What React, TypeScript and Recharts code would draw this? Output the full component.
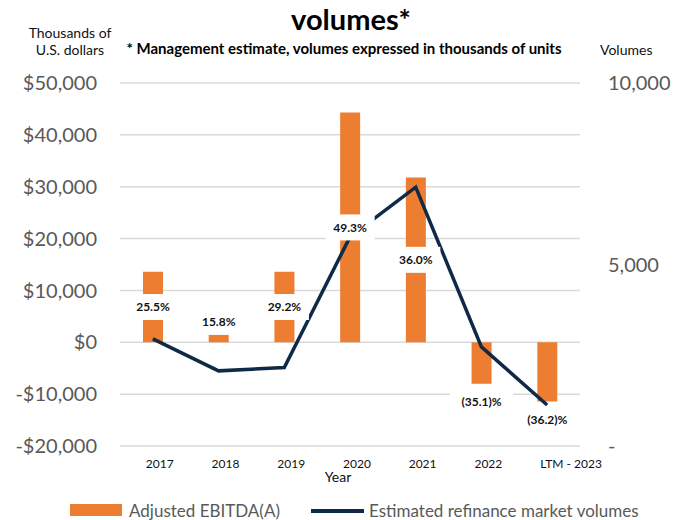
import React from 'react';
import {
  ComposedChart,
  Bar,
  Line,
  XAxis,
  YAxis,
  CartesianGrid,
  Legend,
  LabelList,
} from 'recharts';

const YEARS = ['2017', '2018', '2019', '2020', '2021', '2022', 'LTM - 2023'];
// Adjusted EBITDA, thousands of USD
const EBITDA = [13600, 1450, 13600, 44300, 31800, -8000, -11400];
// Estimated refinance market volumes, thousands of units
const VOLUMES = [2950, 2070, 2160, 5760, 7130, 2730, 1130];
const MARGINS = ['25.5%', '15.8%', '29.2%', '49.3%', '36.0%', '(35.1)%', '(36.2)%'];
const LEFT_TICKS = [-20000, -10000, 0, 10000, 20000, 30000, 40000, 50000];
const RIGHT_TICKS = [0, 5000, 10000];

const data = YEARS.map((year, i) => ({
  year,
  ebitda: EBITDA[i],
  volume: VOLUMES[i],
}));

const ORANGE = '#ED7D31';
const NAVY = '#0F2A47';
const GREY = '#595959';
const FONT = 'Lato, "Open Sans", sans-serif';

const fmtDollars = (v: number) =>
  (v < 0 ? '-$' : '$') + Math.abs(v).toLocaleString('en-US');
const fmtVolume = (v: number) => (v === 0 ? '-' : v.toLocaleString('en-US'));

// year labels sit a little right of the bar centre, left aligned
const YearTick = (props: any) => {
  const { x, y, payload } = props;
  return (
    <text x={x - 7} y={y} dy="0.71em" textAnchor="start" fontSize={12} fill="#111" fontFamily={FONT}>
      {payload.value}
    </text>
  );
};

// margin % label in a white box: centred in the bar, above short bars, below negative bars
const MarginLabel = (props: any) => {
  const vb = props.viewBox || props;
  const { x, y, width, height } = vb;
  const idx = props.index;
  const top = Math.min(y, y + height);
  const bottom = Math.max(y, y + height);
  const cx = x + width / 2;
  const boxH = 26;
  let cy = (top + bottom) / 2;
  if (EBITDA[idx] < 0) cy = bottom + 18;
  else if (bottom - top < boxH) cy = top - boxH / 2;
  const txt = MARGINS[idx];
  const w = txt.length * 7 + 14;
  return (
    <g>
      <rect x={cx - w / 2} y={cy - boxH / 2} width={w} height={boxH} fill="#fff" />
      <text x={cx} y={cy} dy="0.36em" textAnchor="middle" fontSize={12} fontWeight={700} fill="#111" fontFamily={FONT}>
        {txt}
      </text>
    </g>
  );
};

const LegendContent = () => (
  <svg width={688} height={24} style={{ display: 'block' }}>
    <rect x={70} y={4} width={52} height={12} fill={ORANGE} />
    <text x={129} y={17} fontSize={17} fill={GREY} fontFamily={FONT}>
      Adjusted EBITDA(A)
    </text>
    <line x1={311} y1={11} x2={364} y2={11} stroke={NAVY} strokeWidth={4} />
    <text x={369} y={17} fontSize={17} fill={GREY} fontFamily={FONT}>
      Estimated refinance market volumes
    </text>
  </svg>
);

export default function App() {
  return (
    <div style={{ position: 'absolute', left: 0, top: 0, width: 688, height: 520, fontFamily: FONT, background: '#fff' }}>
      <ComposedChart width={688} height={520} data={data} margin={{ top: 83, right: 0, bottom: 0, left: 0 }}>
        <CartesianGrid yAxisId="left" vertical={false} stroke="#D9D9D9" strokeWidth={1.5} />
        <XAxis
          dataKey="year"
          height={74}
          axisLine={false}
          tickLine={false}
          tickSize={0}
          tickMargin={13}
          tick={<YearTick />}
          interval={0}
          label={{ value: 'Year', position: 'insideBottom', offset: 38, dx: -12, fontSize: 14, fill: '#111', fontFamily: FONT }}
        />
        <XAxis xAxisId="lbl" dataKey="year" hide />
        <YAxis
          yAxisId="left"
          width={120}
          domain={[-20000, 50000]}
          ticks={LEFT_TICKS}
          tickFormatter={fmtDollars}
          axisLine={false}
          tickLine={false}
          tickSize={0}
          tickMargin={23}
          tick={{ fontSize: 20, fill: GREY, fontFamily: FONT }}
          interval={0}
        />
        <YAxis
          yAxisId="right"
          orientation="right"
          width={108}
          domain={[0, 10000]}
          ticks={RIGHT_TICKS}
          tickFormatter={fmtVolume}
          axisLine={false}
          tickLine={false}
          tickSize={0}
          tickMargin={28}
          tick={{ fontSize: 20, fill: GREY, fontFamily: FONT }}
          interval={0}
        />
        <Bar yAxisId="left" dataKey="ebitda" fill={ORANGE} barSize={20} isAnimationActive={false} />
        <Line
          yAxisId="right"
          dataKey="volume"
          type="linear"
          stroke={NAVY}
          strokeWidth={3.5}
          dot={false}
          activeDot={false}
          isAnimationActive={false}
        />
        <Bar yAxisId="left" xAxisId="lbl" dataKey="ebitda" fill="none" barSize={20} isAnimationActive={false}>
          <LabelList dataKey="ebitda" content={<MarginLabel />} />
        </Bar>
        <Legend verticalAlign="middle" wrapperStyle={{ top: 500, left: 0, width: 688 }} content={<LegendContent />} />
      </ComposedChart>
      <svg width={688} height={80} style={{ position: 'absolute', left: 0, top: 0, pointerEvents: 'none' }}>
        <text x={351} y={30} textAnchor="middle" fontSize={29} fontWeight={700} fill="#000" fontFamily={FONT}>
          volumes*
        </text>
        <text x={344} y={54} textAnchor="middle" fontSize={15} fontWeight={700} fill="#000" fontFamily={FONT}>
          * Management estimate, volumes expressed in thousands of units
        </text>
        <text x={70} y={38} textAnchor="middle" fontSize={14} fill="#111" fontFamily={FONT}>
          Thousands of
        </text>
        <text x={70} y={55} textAnchor="middle" fontSize={14} fill="#111" fontFamily={FONT}>
          U.S. dollars
        </text>
        <text x={600} y={55} textAnchor="start" fontSize={14} fill="#111" fontFamily={FONT}>
          Volumes
        </text>
      </svg>
    </div>
  );
}
